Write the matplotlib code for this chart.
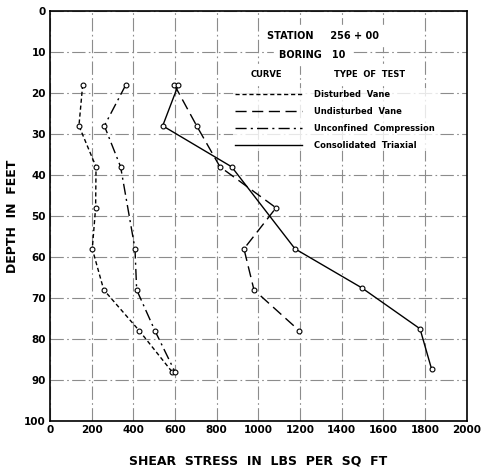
import matplotlib.pyplot as plt
from matplotlib.lines import Line2D

# shear stress (lbs/sq ft) vs depth (ft)
dv_depth = [18, 28, 38, 48, 58, 68, 78, 88]
dv_stress = [157, 139, 221, 219, 203, 258, 429, 586]

uc_depth = [18, 28, 38, 58, 68, 78, 88]
uc_stress = [364, 261, 339, 408, 416, 504, 600]

uv_depth = [18, 28, 38, 48, 58, 68, 78]
uv_stress = [597, 704, 816, 1085, 931, 979, 1197]

ct_depth = [18, 28, 38, 58, 67.5, 77.5, 87.4]
ct_stress = [616, 541, 872, 1176, 1496, 1776, 1832]

labels = ['Disturbed  Vane', 'Undisturbed  Vane', 'Unconfined  Compression', 'Consolidated  Triaxial']
styles = [(0, (3, 2)), (0, (8, 4)), (0, (8, 3, 1.5, 3)), '-']

fig = plt.figure(figsize=(4.82, 4.69), dpi=100)
ax = fig.add_axes([0.1037, 0.1023, 0.8645, 0.8742])

mk = dict(color='black', lw=1.0, marker='o', ms=3.5, mfc='white', mec='black', mew=0.8)
ax.plot(dv_stress, dv_depth, ls=styles[0], **mk)
ax.plot(uc_stress, uc_depth, ls=styles[2], **mk)
ax.plot(uv_stress, uv_depth, ls=styles[1], **mk)
ax.plot(ct_stress, ct_depth, ls=styles[3], **mk)

ax.set_xlim(0, 2000)
ax.set_ylim(100, 0)
ax.set_xticks(range(0, 2001, 200))
ax.set_yticks(range(0, 101, 10))
ax.grid(True, ls=(0, (12, 3, 1.5, 3)), color='0.55', lw=0.8)
ax.tick_params(length=0, labelsize=7.5, pad=3)
for t in ax.get_xticklabels() + ax.get_yticklabels():
    t.set_fontweight('bold')
for s in ax.spines.values():
    s.set_linewidth(1.2)

ax.set_xlabel('SHEAR  STRESS  IN  LBS  PER  SQ  FT', fontsize=9, fontweight='bold', labelpad=14)
ax.set_ylabel('DEPTH  IN  FEET', fontsize=9, fontweight='bold', labelpad=4)

# legend block
ax.text(0.655, 0.94, 'STATION     256 + 00', transform=ax.transAxes, ha='center', va='center',
        fontsize=7, fontweight='bold', backgroundcolor='white')
ax.text(0.63, 0.893, 'BORING   10', transform=ax.transAxes, ha='center', va='center',
        fontsize=7, fontweight='bold', backgroundcolor='white')
ax.text(0.52, 0.845, 'CURVE', transform=ax.transAxes, ha='center', va='center',
        fontsize=6, fontweight='bold', backgroundcolor='white')
ax.text(0.767, 0.845, 'TYPE  OF  TEST', transform=ax.transAxes, ha='center', va='center',
        fontsize=6, fontweight='bold', backgroundcolor='white')
ax.plot([0.485, 0.556], [0.832, 0.832], transform=ax.transAxes, color='black', lw=0.7)
ax.plot([0.68, 0.855], [0.832, 0.832], transform=ax.transAxes, color='black', lw=0.7)

handles = [Line2D([], [], color='black', lw=1.0, ls=s) for s in styles]
leg = ax.legend(handles, labels, loc='upper left', bbox_to_anchor=(0.44, 0.812),
                frameon=True, fontsize=6, handlelength=8, handletextpad=1.5,
                labelspacing=0.95, borderpad=0.2, borderaxespad=0)
leg.get_frame().set_edgecolor('none')
leg.get_frame().set_facecolor('white')
for t in leg.get_texts():
    t.set_fontweight('bold')

fig.savefig('out.png', dpi=100)
